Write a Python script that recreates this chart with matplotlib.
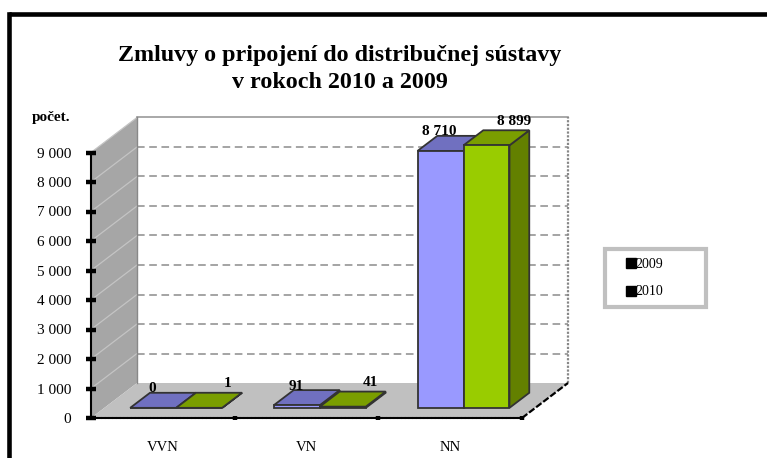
import matplotlib.pyplot as plt
from matplotlib.lines import Line2D
from matplotlib.patches import Polygon

plt.rcParams['font.family'] = ['Liberation Serif', 'DejaVu Serif']

categories = ['VVN', 'VN', 'NN']
years = ['2009', '2010']
values_2009 = [0, 91, 8710]
values_2010 = [1, 41, 8899]
y_ticks = [0, 1000, 2000, 3000, 4000, 5000, 6000, 7000, 8000, 9000]

W, H = 767, 458
# front plane of the fake 3D box, in pixels
LEFT, RIGHT, BOTTOM, TOP = 91, 522, 418, 152.5
DEPTH_X, DEPTH_Y = 46, 35
Y_MAX = 9000


def fmt(v):
    return f'{v:,}'.replace(',', ' ')


fig = plt.figure(figsize=(W / 100, H / 100), dpi=100, facecolor='white')
ax = fig.add_axes([LEFT / W, 1 - BOTTOM / H, (RIGHT - LEFT) / W, (BOTTOM - TOP) / H])
ax.set_xlim(0, len(categories))
ax.set_ylim(0, Y_MAX)
ax.patch.set_visible(False)

dx_unit = DEPTH_X * len(categories) / (RIGHT - LEFT)
dy_unit = DEPTH_Y * Y_MAX / (BOTTOM - TOP)


def pr(x, y, z):
    # oblique projection, z runs from front (0) to back wall (1)
    return (x + z * dx_unit, y + z * dy_unit)


def face(points, color, edge='none', lw=0, zorder=1):
    ax.add_patch(Polygon([pr(*p) for p in points], closed=True, facecolor=color,
                         edgecolor=edge, linewidth=lw, zorder=zorder, clip_on=False,
                         joinstyle='miter'))


def line(p0, p1, zorder=1.5, **kw):
    a, b = pr(*p0), pr(*p1)
    ax.plot([a[0], b[0]], [a[1], b[1]], clip_on=False, zorder=zorder, **kw)


n = len(categories)
# walls and floor
face([(0, 0, 0), (0, Y_MAX, 0), (0, Y_MAX, 1), (0, 0, 1)], '#A6A6A6')
face([(0, 0, 0), (n, 0, 0), (n, 0, 1), (0, 0, 1)], '#C0C0C0')
for t in y_ticks[1:-1]:
    line((0, t, 1), (n, t, 1), color='#8C8C8C', lw=1.1, ls=(0, (5, 3)))
for t in y_ticks[1:]:
    line((0, t, 0), (0, t, 1), color='#C4C4C4', lw=0.9)
line((0, Y_MAX, 1), (n, Y_MAX, 1), color='#999999', lw=1.2)
line((0, 0, 1), (0, Y_MAX, 1), color='#888888', lw=1.0)
line((n, 0, 1), (n, Y_MAX, 1), color='#888888', lw=1.6, ls=(0, (1, 0.7)))
line((n, 0, 0), (n, 0, 1), color='black', lw=1.6, ls=(0, (3, 1)))

# bars
bar_w = 0.32
z0, z1 = 0.29, 0.72
edge = '#333333'
series = [
    (values_2009, -bar_w, '#9999FF', '#7070C0', '#5C5CA8', (-1, 19)),
    (values_2010, 0, '#99CC00', '#7A9E00', '#638000', (28, 24)),
]
for vals, shift, c_front, c_top, c_side, off in series:
    for i, v in enumerate(vals):
        x0 = i + 0.5 + shift
        x1 = x0 + bar_w
        face([(x1, 0, z0), (x1, 0, z1), (x1, v, z1), (x1, v, z0)], c_side, edge, 1.3, 3)
        face([(x0, v, z0), (x1, v, z0), (x1, v, z1), (x0, v, z1)], c_top, edge, 1.3, 3)
        face([(x0, 0, z0), (x1, 0, z0), (x1, v, z0), (x0, v, z0)], c_front, edge, 1.3, 3)
        ax.annotate(fmt(v), pr((x0 + x1) / 2, v, z0), xytext=off, textcoords='offset pixels',
                    ha='center', va='center', fontsize=11, fontweight='bold', zorder=5,
                    annotation_clip=False)

# axes
for s in ['top', 'right']:
    ax.spines[s].set_visible(False)
ax.spines['left'].set_linewidth(1.5)
ax.spines['bottom'].set_linewidth(1.5)
ax.spines['bottom'].set_linestyle((0, (1, 0.8)))
ax.set_yticks(y_ticks)
ax.set_yticklabels([fmt(t) for t in y_ticks], fontsize=11)
ax.tick_params(axis='y', direction='inout', length=6.5, width=3.2, pad=11)
ax.set_xticks(range(n + 1))
ax.set_xticklabels([])
ax.tick_params(axis='x', which='major', direction='inout', length=3.5, width=3.2)
ax.set_xticks([i + 0.5 for i in range(n)], minor=True)
ax.set_xticklabels(categories, minor=True, fontsize=10.5)
ax.tick_params(axis='x', which='minor', length=0, pad=16.5)

fig.text(51 / W, 1 - 118 / H, 'počet.', ha='center', va='center', fontsize=11, fontweight='bold')
fig.text(340 / W, 1 - 56 / H, 'Zmluvy o pripojení do distribučnej sústavy',
         ha='center', va='center', fontsize=17.3, fontweight='bold')
fig.text(340 / W, 1 - 83 / H, 'v rokoch 2010 a 2009',
         ha='center', va='center', fontsize=17.3, fontweight='bold')

# legend
handles = [Line2D([], [], ls='none', marker='s', ms=7, color='black') for _ in years]
leg = fig.legend(handles, years, loc='lower left', mode='expand', ncols=1,
                 bbox_to_anchor=(605 / W, 1 - 307 / H, 101 / W, 58 / H),
                 bbox_transform=fig.transFigure, borderaxespad=0, fontsize=10,
                 fancybox=False, edgecolor='#C0C0C0', framealpha=1, borderpad=0.62,
                 labelspacing=1.05, handlelength=2.45, handletextpad=-0.86, numpoints=1)
leg.get_frame().set_linewidth(3)

# outer frame, only left and top
fig.add_artist(Line2D([8.5 / W, 8.5 / W], [0, 1 - 13.5 / H], color='black', lw=3.3,
                      solid_capstyle='projecting'))
fig.add_artist(Line2D([8.5 / W, 1], [1 - 13.5 / H, 1 - 13.5 / H], color='black', lw=3.3,
                      solid_capstyle='butt'))

fig.savefig('out.png', dpi=100)
